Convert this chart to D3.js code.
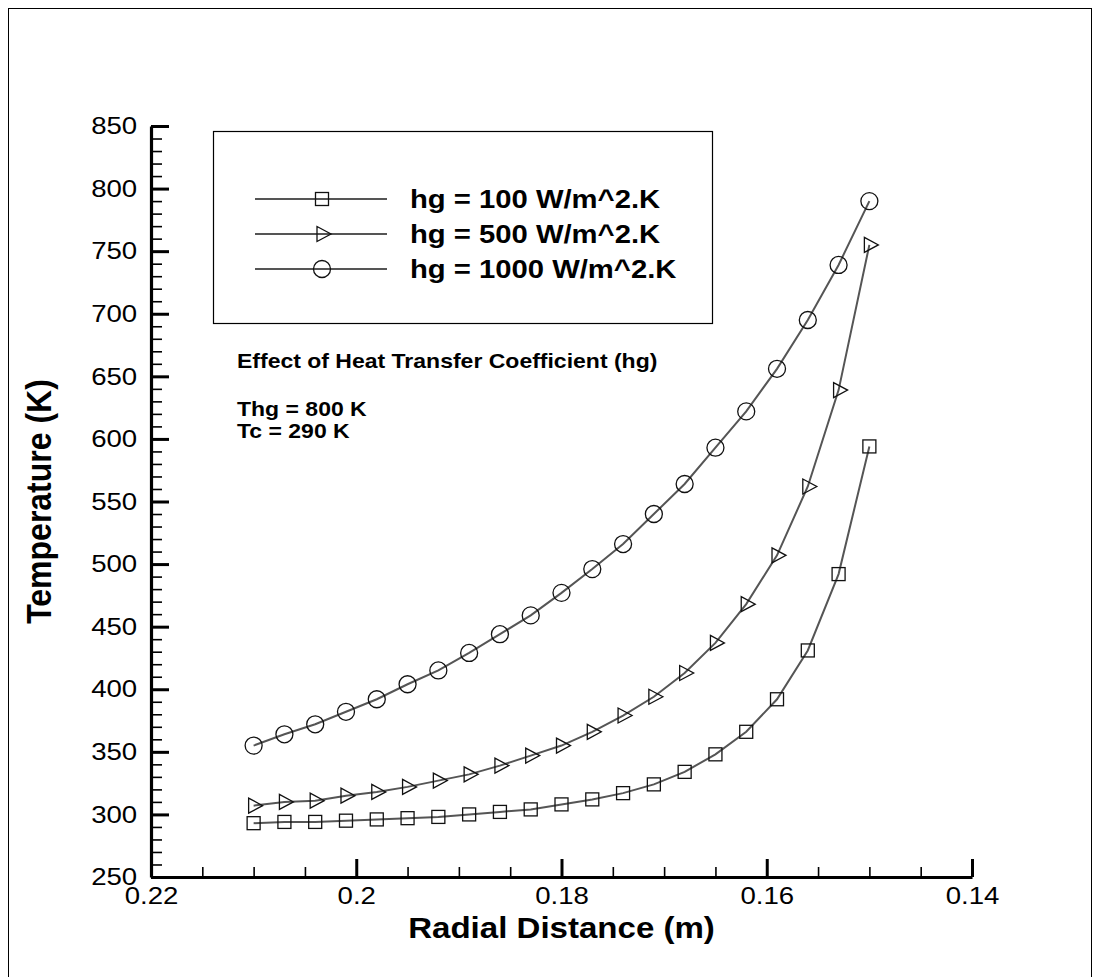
<!DOCTYPE html>
<html>
<head>
<meta charset="utf-8">
<script src="https://cdn.jsdelivr.net/npm/d3@7"></script>
<style>
  html, body { margin: 0; padding: 0; background: #fff; }
  svg { display: block; }
  text { font-family: "Liberation Sans", Arial, Helvetica, sans-serif; fill: #000; }
</style>
</head>
<body>
<svg id="chart" width="1100" height="977"></svg>
<script>
// Radial positions (m) and temperatures (K) for three gas-side heat transfer coefficients
const radialDistance = [0.210, 0.207, 0.204, 0.201, 0.198, 0.195, 0.192, 0.189, 0.186, 0.183, 0.180,
                        0.177, 0.174, 0.171, 0.168, 0.165, 0.162, 0.159, 0.156, 0.153, 0.150];
const tempHg100  = [293, 294, 294, 295, 296, 297, 298, 300, 302, 304, 308,
                    312, 317, 324, 334, 348, 366, 392, 431, 492, 594];
const tempHg500  = [307, 310, 311, 315, 318, 322, 327, 332, 339, 347, 355,
                    366, 379, 394, 413, 437, 468, 507, 562, 639, 755];
const tempHg1000 = [355, 364, 372, 382, 392, 404, 415, 429, 444, 459, 477,
                    496, 516, 540, 564, 593, 622, 656, 695, 739, 790];

const seriesNames   = ["hg = 100 W/m^2.K", "hg = 500 W/m^2.K", "hg = 1000 W/m^2.K"];
const seriesSymbols = ["square", "triangle", "circle"];

const xMajorTicks = [0.22, 0.20, 0.18, 0.16, 0.14];
const xTickLabels = ["0.22", "0.2", "0.18", "0.16", "0.14"];
const yMajorTicks = [250, 300, 350, 400, 450, 500, 550, 600, 650, 700, 750, 800, 850];

const noteTitle = "Effect of Heat Transfer Coefficient (hg)";
const noteLines = ["Thg = 800 K", "Tc = 290 K"];

const series = [tempHg100, tempHg500, tempHg1000].map((vals, i) => ({
  name: seriesNames[i],
  symbol: seriesSymbols[i],
  points: radialDistance.map((r, j) => ({ r: r, t: vals[j] }))
}));

const svg = d3.select("#chart");
const LINE = "#555", MARK = "#111";
const WIDE = 1.15;   // glyphs are drawn slightly extended horizontally

// page frame (runs off the bottom edge)
svg.append("rect")
  .attr("x", 8.5).attr("y", 8.5).attr("width", 1083).attr("height", 1000)
  .attr("fill", "none").attr("stroke", "#000").attr("stroke-width", 1);

const x = d3.scaleLinear().domain([0.22, 0.14]).range([151, 972]);
const y = d3.scaleLinear().domain([250, 850]).range([877, 126]);

// text helper: anchored at (px, py), stretched horizontally
function label(parent, px, py, str, size, bold, anchor, sx) {
  return parent.append("text")
    .attr("transform", `translate(${px},${py}) scale(${sx || WIDE},1)`)
    .attr("text-anchor", anchor || "start")
    .attr("font-size", size)
    .attr("font-weight", bold ? "bold" : "normal")
    .text(str);
}

// minor ticks
const xMinor = d3.range(0, 17).map(i => 0.22 - i * 0.005).filter(v => !xMajorTicks.some(m => Math.abs(m - v) < 1e-9));
const yMinor = d3.range(250, 851, 10).filter(v => v % 50 !== 0);

svg.append("g").attr("transform", `translate(0,${y(250)})`)
  .call(d3.axisBottom(x).tickValues(xMinor).tickSize(-10).tickFormat(""))
  .call(g => g.select(".domain").remove())
  .call(g => g.selectAll("line").attr("stroke", "#000").attr("stroke-width", 1.6));

svg.append("g").attr("transform", `translate(${x(0.22)},0)`)
  .call(d3.axisLeft(y).tickValues(yMinor).tickSize(-11).tickFormat(""))
  .call(g => g.select(".domain").remove())
  .call(g => g.selectAll("line").attr("stroke", "#000").attr("stroke-width", 1.6));

// major axes
const xAxis = svg.append("g").attr("transform", `translate(0,${y(250)})`)
  .call(d3.axisBottom(x).tickValues(xMajorTicks).tickSizeInner(-18).tickSizeOuter(0).tickPadding(10)
        .tickFormat((d, i) => xTickLabels[i]));
const yAxis = svg.append("g").attr("transform", `translate(${x(0.22)},0)`)
  .call(d3.axisLeft(y).tickValues(yMajorTicks).tickSizeInner(-18).tickSizeOuter(0).tickPadding(12)
        .tickFormat(d3.format("d")));

[xAxis, yAxis].forEach(g => {
  g.select(".domain").attr("stroke", "#000").attr("stroke-width", 3.2);
  g.selectAll(".tick line").attr("stroke", "#000").attr("stroke-width", 3);
  g.selectAll(".tick text").attr("font-size", 24).attr("fill", "#000")
    .attr("font-family", "Liberation Sans, Arial, sans-serif")
    .attr("transform", `scale(${WIDE},1)`);
});

// axis titles
label(svg, (x(0.22) + x(0.14)) / 2, 938, "Radial Distance (m)", 29, true, "middle", 1.14);
svg.append("text")
  .attr("transform", `translate(51,${(y(250) + y(850)) / 2}) rotate(-90) scale(1,1.12)`)
  .attr("text-anchor", "middle").attr("font-size", 32).attr("font-weight", "bold")
  .text("Temperature (K)");

// symbol shapes
function drawSymbol(sel, kind) {
  if (kind === "square") {
    sel.append("rect").attr("x", -6.5).attr("y", -6.5).attr("width", 13).attr("height", 13);
  } else if (kind === "triangle") {
    sel.append("path").attr("d", "M-5,-7.5L-5,7.5L9,0Z");
  } else {
    sel.append("circle").attr("r", 8.5);
  }
  sel.selectAll("*").attr("fill", "none").attr("stroke", MARK).attr("stroke-width", 1.3);
}

const line = d3.line().x(d => x(d.r)).y(d => y(d.t));

series.forEach(s => {
  svg.append("path").datum(s.points)
    .attr("d", line).attr("fill", "none").attr("stroke", LINE).attr("stroke-width", 2);
  svg.append("g").selectAll("g").data(s.points).join("g")
    .attr("transform", d => `translate(${x(d.r)},${y(d.t)})`)
    .each(function () { drawSymbol(d3.select(this), s.symbol); });
});

// legend
const legend = svg.append("g");
legend.append("rect").attr("x", 213.5).attr("y", 131.5).attr("width", 499).attr("height", 192)
  .attr("fill", "#fff").attr("stroke", "#000").attr("stroke-width", 1.2);
const legendRows = [199, 234, 269];
series.forEach((s, i) => {
  const row = legend.append("g").attr("transform", `translate(0,${legendRows[i]})`);
  row.append("line").attr("x1", 255).attr("x2", 387).attr("y1", 0).attr("y2", 0)
    .attr("stroke", LINE).attr("stroke-width", 2);
  drawSymbol(row.append("g").attr("transform", "translate(322,0)"), s.symbol);
  label(row, 410, 9, s.name, 25, true, "start", 1.17);
});

// annotation
label(svg, 237, 368, noteTitle, 20, true);
noteLines.forEach((t, i) => label(svg, 237, 416 + i * 22, t, 20, true));
</script>
</body>
</html>
